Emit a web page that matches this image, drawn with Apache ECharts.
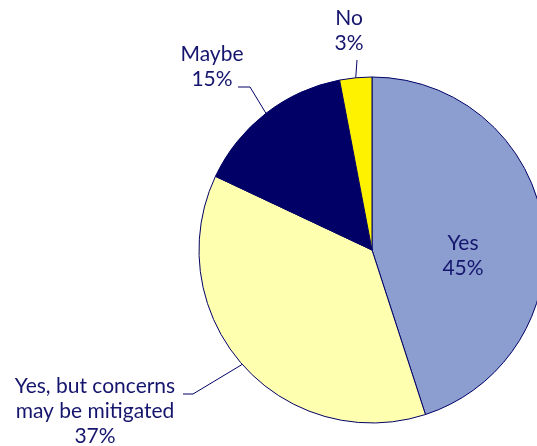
<!DOCTYPE html>
<html>
<head>
<meta charset="utf-8">
<script src="https://cdn.jsdelivr.net/npm/echarts@6/dist/echarts.min.js"></script>
<style>
  html, body { margin: 0; padding: 0; background: #ffffff; }
  #chart { width: 537px; height: 446px; }
</style>
</head>
<body>
<div id="chart"></div>
<script>
// Survey answers, in percent
const answers = ['Yes', 'Yes, but concerns\nmay be mitigated', 'Maybe', 'No'];
const shares = [45, 37, 15, 3];
const sliceColors = ['#8b9ecf', '#ffffb0', '#000066', '#fff200'];

// Where each label sits, and the bend of its leader line
const labelSpots = [
  { x: 463, y: 256, line: null },
  { x: 95, y: 411, line: [[193, 394], [183, 394]] },
  { x: 212, y: 67, line: [[250, 87], [238, 87]] },
  { x: 349, y: 31, line: [[357, 60]] }
];

const chart = echarts.init(document.getElementById('chart'), null, { renderer: 'canvas' });

chart.setOption({
  animation: false,
  series: [{
    type: 'pie',
    center: [372, 250],
    radius: 173,
    startAngle: 90,
    clockwise: true,
    silent: true,
    avoidLabelOverlap: false,
    itemStyle: { borderColor: '#000066', borderWidth: 1 },
    label: {
      show: true,
      position: 'outside',
      formatter: '{b}\n{c}%',
      color: '#15156e',
      fontFamily: 'Lato',
      fontSize: 21,
      lineHeight: 25
    },
    labelLine: {
      show: true,
      lineStyle: { color: '#000066', width: 1 }
    },
    labelLayout: function (p) {
      const spot = labelSpots[p.dataIndex];
      const out = { x: spot.x, y: spot.y, align: 'center', verticalAlign: 'middle' };
      if (spot.line && p.labelLinePoints) {
        out.labelLinePoints = [p.labelLinePoints[0]].concat(spot.line);
      }
      return out;
    },
    data: answers.map(function (name, i) {
      const item = { name: name, value: shares[i], itemStyle: { color: sliceColors[i] } };
      if (i === 0) {
        item.label = { position: 'inside' };
        item.labelLine = { show: false };
      }
      return item;
    })
  }]
});
</script>
</body>
</html>
